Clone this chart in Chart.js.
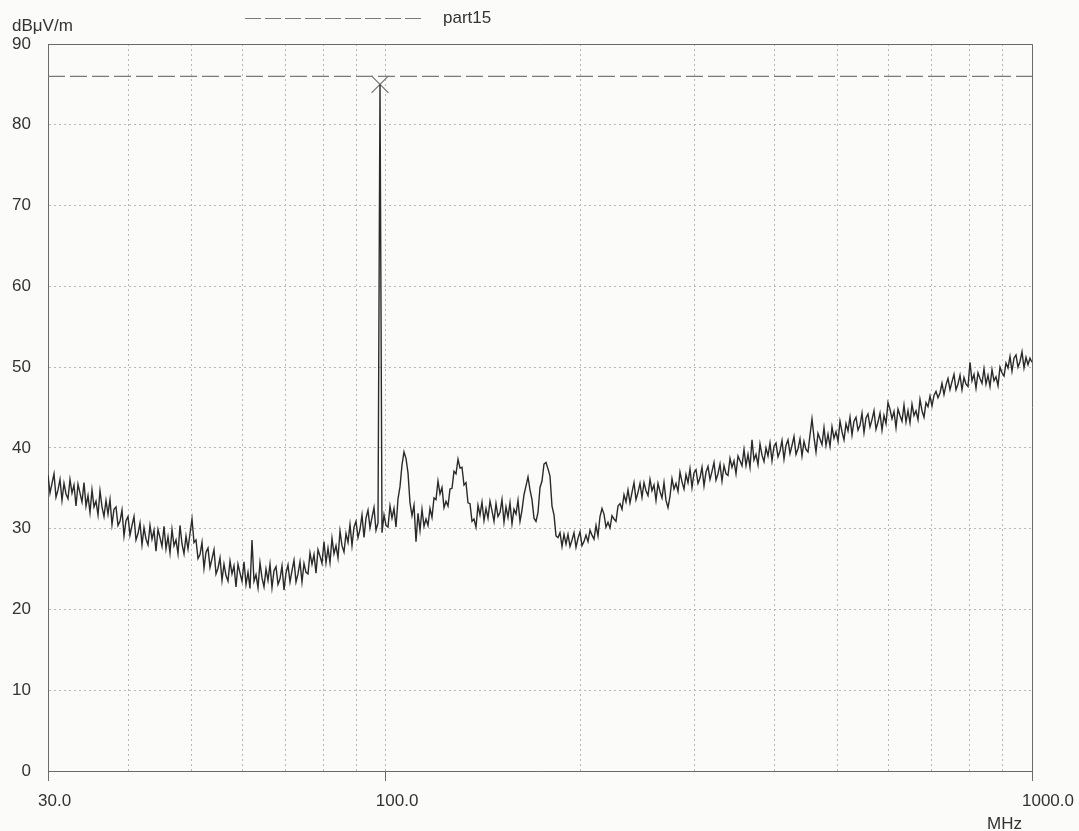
<!DOCTYPE html>
<html>
<head>
<meta charset="utf-8">
<title>part15 scan</title>
<script src="https://cdn.jsdelivr.net/npm/chart.js@4.4.1/dist/chart.umd.min.js"></script>
<style>
    html, body { margin: 0; padding: 0; background: #fbfbfa; }
    #scanChart { display: block; }
</style>
</head>
<body>
<canvas id="scanChart" width="1079" height="831"></canvas>
<script>
// Sweep settings (log-spaced receiver sweep)
const sweepStartMHz = 30;
const sweepStopMHz = 1000;

// Measured level per sweep point, dBµV/m
const traceLevels = [
    36.6, 34.4, 35.6, 36.8, 33.9, 34.8, 36.1, 33.5, 35.6, 34.3,
    33.7, 36.1, 34.4, 35.4, 32.8, 35.5, 34.4, 33.3, 35.7, 32.8,
    34.1, 32.0, 34.8, 32.7, 33.4, 31.7, 34.7, 32.7, 31.5, 33.5,
    31.8, 33.6, 30.5, 32.4, 32.7, 30.4, 30.9, 32.3, 29.1, 31.0,
    31.5, 29.2, 30.4, 31.5, 28.6, 29.4, 30.7, 28.0, 30.1, 28.7,
    28.0, 30.4, 28.7, 29.8, 27.2, 29.9, 28.9, 27.8, 30.3, 27.5,
    29.0, 27.0, 29.9, 27.9, 28.6, 26.9, 30.4, 28.1, 26.9, 29.1,
    27.5, 29.4, 31.2, 28.3, 28.6, 26.3, 26.8, 28.3, 25.1, 27.1,
    27.6, 25.2, 26.3, 27.4, 24.4, 25.1, 26.4, 23.6, 25.6, 24.2,
    23.5, 26.0, 24.4, 25.4, 22.8, 25.6, 24.5, 23.5, 25.9, 23.1,
    24.6, 22.6, 28.6, 23.5, 24.3, 22.7, 25.8, 23.9, 22.8, 25.0,
    23.6, 25.6, 22.7, 24.8, 25.3, 23.1, 23.8, 25.4, 22.4, 24.5,
    25.5, 23.4, 24.8, 26.1, 23.4, 24.4, 25.9, 23.4, 25.7, 24.6,
    24.4, 27.0, 25.6, 26.8, 24.5, 27.4, 26.6, 25.7, 28.4, 25.8,
    27.6, 25.8, 28.8, 26.9, 27.9, 26.4, 29.7, 27.9, 27.1, 29.4,
    28.3, 30.5, 27.9, 30.2, 30.9, 28.9, 29.9, 31.7, 28.9, 31.3,
    32.3, 30.1, 31.4, 32.6, 29.8, 30.7, 85.0, 29.5, 31.7, 30.4,
    30.2, 32.8, 31.3, 32.5, 30.2, 33.7, 35.2, 37.9, 39.5, 38.7,
    36.9, 33.2, 31.6, 32.9, 28.4, 31.9, 29.8, 32.4, 30.3, 31.2,
    30.4, 32.5, 31.4, 33.8, 33.6, 35.9, 34.3, 35.1, 32.6, 33.4,
    32.8, 34.9, 35.0, 37.1, 36.8, 38.6, 37.5, 37.6, 35.4, 35.7,
    33.2, 33.1, 30.9, 31.2, 30.2, 32.9, 31.7, 33.3, 31.0, 32.5,
    31.3, 33.4, 32.2, 30.9, 33.1, 31.5, 32.0, 33.6, 30.8, 32.7,
    31.4, 33.2, 30.6, 32.4, 31.8, 33.5, 30.9, 32.3, 34.2, 35.3,
    36.4, 34.8, 33.6, 31.3, 30.9, 32.0, 35.1, 35.9, 38.0, 38.2,
    37.4, 36.5, 32.8, 31.7, 29.1, 28.9, 29.5, 27.8, 29.3, 28.1,
    29.3, 27.8, 28.6, 29.5, 27.7, 28.8, 29.6, 27.9, 28.4, 29.2,
    28.4, 29.8, 29.2, 28.7, 30.4, 29.1, 31.5, 32.5, 31.8, 30.2,
    30.8, 30.1, 31.6, 31.2, 30.9, 32.8, 33.1, 32.4, 34.2, 33.3,
    34.8, 33.2, 34.5, 35.7, 33.6, 34.5, 35.6, 33.9, 35.7, 34.7,
    34.1, 36.1, 34.7, 35.4, 33.5, 35.6, 34.6, 33.8, 35.7, 33.5,
    32.6, 34.0, 36.2, 34.9, 35.6, 34.6, 37.0, 35.8, 34.9, 36.7,
    35.7, 37.4, 35.1, 36.9, 37.3, 35.6, 36.3, 37.6, 35.3, 37.0,
    37.7, 36.1, 37.1, 38.2, 36.0, 36.8, 38.0, 35.9, 37.8, 36.8,
    36.6, 38.7, 37.6, 38.4, 36.8, 39.0, 38.4, 37.8, 39.8, 37.8,
    39.2, 37.6, 41.0, 38.5, 39.2, 37.9, 40.5, 39.1, 38.3, 40.0,
    39.0, 40.6, 38.4, 40.2, 40.6, 38.9, 39.6, 40.9, 38.6, 40.3,
    41.0, 39.3, 40.3, 41.4, 39.2, 39.9, 41.1, 39.0, 40.8, 39.8,
    39.5, 41.6, 43.6, 41.3, 39.5, 41.8, 41.1, 40.4, 42.5, 40.3,
    41.7, 40.2, 42.6, 41.2, 42.0, 40.8, 43.3, 42.0, 41.0, 43.0,
    42.1, 43.8, 41.6, 43.3, 43.8, 42.2, 42.8, 44.3, 41.9, 43.7,
    44.2, 42.6, 43.5, 44.6, 42.3, 43.2, 44.3, 42.2, 44.0, 43.0,
    45.6, 44.8, 43.6, 44.5, 42.5, 44.8, 44.0, 43.3, 45.3, 43.2,
    44.6, 43.1, 45.4, 44.0, 44.6, 43.5, 46.0, 44.6, 43.8, 45.6,
    45.1, 46.4, 45.2, 46.5, 47.0, 46.2, 46.8, 48.0, 46.6, 47.8,
    48.6, 47.2, 48.2, 49.1, 47.2, 47.9, 49.0, 47.2, 48.7, 47.9,
    47.6, 50.6, 48.3, 49.1, 47.4, 49.3, 48.6, 48.0, 49.8, 47.9,
    49.0, 47.6, 49.7, 48.3, 48.8, 47.7, 50.0, 49.3, 48.9, 50.5,
    49.9, 51.3, 49.5, 51.1, 51.5, 50.0, 50.7, 51.9, 49.9, 51.2,
    50.3, 51.1, 50.6
];

// Limit line
const limitName = 'part15';
const limitFreqs = [30, 1000];
const limitLevels = [86, 86];

// Axes
const gridFreqs = [30, 40, 50, 60, 70, 80, 90, 100, 200, 300, 400, 500, 600, 700, 800, 900, 1000];
const labelledFreqs = [30, 100, 1000];
const levelTicks = [0, 10, 20, 30, 40, 50, 60, 70, 80, 90];
const xUnit = 'MHz';
const yUnit = 'dBμV/m';

const TEXT_FONT = '"Liberation Sans", Arial, sans-serif';
const TEXT_COLOR = '#333';
const GRID_COLOR = '#b9b9b9';
const AXIS_COLOR = '#6a6a6a';
const LIMIT_COLOR = '#7a7a7a';

const traceFreqs = traceLevels.map((_, i) =>
    sweepStartMHz * Math.pow(sweepStopMHz / sweepStartMHz, i / (traceLevels.length - 1)));
const peakIndex = traceLevels.indexOf(Math.max(...traceLevels));

// paper background
const paperFill = {
    id: 'paperFill',
    beforeDraw(chart) {
        const { ctx, width, height } = chart;
        ctx.save();
        ctx.fillStyle = '#fbfbfa';
        ctx.fillRect(0, 0, width, height);
        ctx.restore();
    }
};

// top/right frame, unit labels and the limit legend
const plotFrame = {
    id: 'plotFrame',
    afterDraw(chart) {
        const { ctx, chartArea: a } = chart;
        ctx.save();
        ctx.strokeStyle = AXIS_COLOR;
        ctx.lineWidth = 1;
        ctx.beginPath();
        ctx.moveTo(a.left, Math.round(a.top) + 0.5);
        ctx.lineTo(Math.round(a.right) + 0.5, Math.round(a.top) + 0.5);
        ctx.lineTo(Math.round(a.right) + 0.5, a.bottom);
        ctx.stroke();

        ctx.fillStyle = TEXT_COLOR;
        ctx.font = '17px ' + TEXT_FONT;
        ctx.textAlign = 'left';
        ctx.textBaseline = 'alphabetic';
        ctx.fillText(yUnit, 12, 31);
        ctx.textAlign = 'right';
        ctx.fillText(xUnit, a.right - 10, 829);

        ctx.strokeStyle = LIMIT_COLOR;
        ctx.lineWidth = 1.2;
        ctx.setLineDash([16, 4]);
        ctx.beginPath();
        ctx.moveTo(245, 18.5);
        ctx.lineTo(422, 18.5);
        ctx.stroke();
        ctx.setLineDash([]);
        ctx.textAlign = 'left';
        ctx.fillText(limitName, 443, 23);
        ctx.restore();
    }
};

new Chart(document.getElementById('scanChart'), {
    type: 'line',
    data: {
        datasets: [
            {
                label: 'trace',
                data: traceFreqs.map((f, i) => ({ x: f, y: traceLevels[i] })),
                borderColor: '#2a2a2a',
                borderWidth: 1.4,
                pointRadius: 0,
                tension: 0
            },
            {
                label: limitName,
                data: limitFreqs.map((f, i) => ({ x: f, y: limitLevels[i] })),
                borderColor: LIMIT_COLOR,
                borderWidth: 1.2,
                borderDash: [17, 5],
                pointRadius: 0
            },
            {
                label: 'peak',
                data: [{ x: traceFreqs[peakIndex], y: traceLevels[peakIndex] }],
                showLine: false,
                pointStyle: 'crossRot',
                pointRadius: 12,
                pointBorderColor: '#777',
                pointBorderWidth: 1.3
            }
        ]
    },
    options: {
        responsive: false,
        animation: false,
        devicePixelRatio: 1,
        layout: { padding: { top: 44, right: 47, left: 0, bottom: 0 } },
        plugins: {
            legend: { display: false },
            tooltip: { enabled: false }
        },
        scales: {
            x: {
                type: 'logarithmic',
                min: sweepStartMHz,
                max: sweepStopMHz,
                afterBuildTicks: scale => { scale.ticks = gridFreqs.map(v => ({ value: v })); },
                afterFit: scale => { scale.height = 60; scale.paddingLeft = 0; scale.paddingRight = 0; },
                ticks: {
                    autoSkip: false,
                    maxRotation: 0,
                    align: 'start',
                    labelOffset: -10,
                    padding: 10,
                    color: TEXT_COLOR,
                    font: { family: TEXT_FONT, size: 17 },
                    callback: v => labelledFreqs.includes(v) ? v.toFixed(1) : ''
                },
                grid: {
                    color: GRID_COLOR,
                    lineWidth: 1,
                    tickLength: 10,
                    tickColor: ctx => (ctx.tick && labelledFreqs.includes(ctx.tick.value)) ? AXIS_COLOR : 'rgba(0,0,0,0)'
                },
                border: { color: AXIS_COLOR, width: 1, dash: [2, 3] }
            },
            y: {
                min: 0,
                max: 90,
                afterBuildTicks: scale => { scale.ticks = levelTicks.map(v => ({ value: v })); },
                afterFit: scale => { scale.width = 48; },
                ticks: {
                    padding: 17,
                    color: TEXT_COLOR,
                    font: { family: TEXT_FONT, size: 17 }
                },
                grid: { color: GRID_COLOR, lineWidth: 1, drawTicks: false },
                border: { color: AXIS_COLOR, width: 1, dash: [2, 3] }
            }
        }
    },
    plugins: [paperFill, plotFrame]
});
</script>
</body>
</html>
